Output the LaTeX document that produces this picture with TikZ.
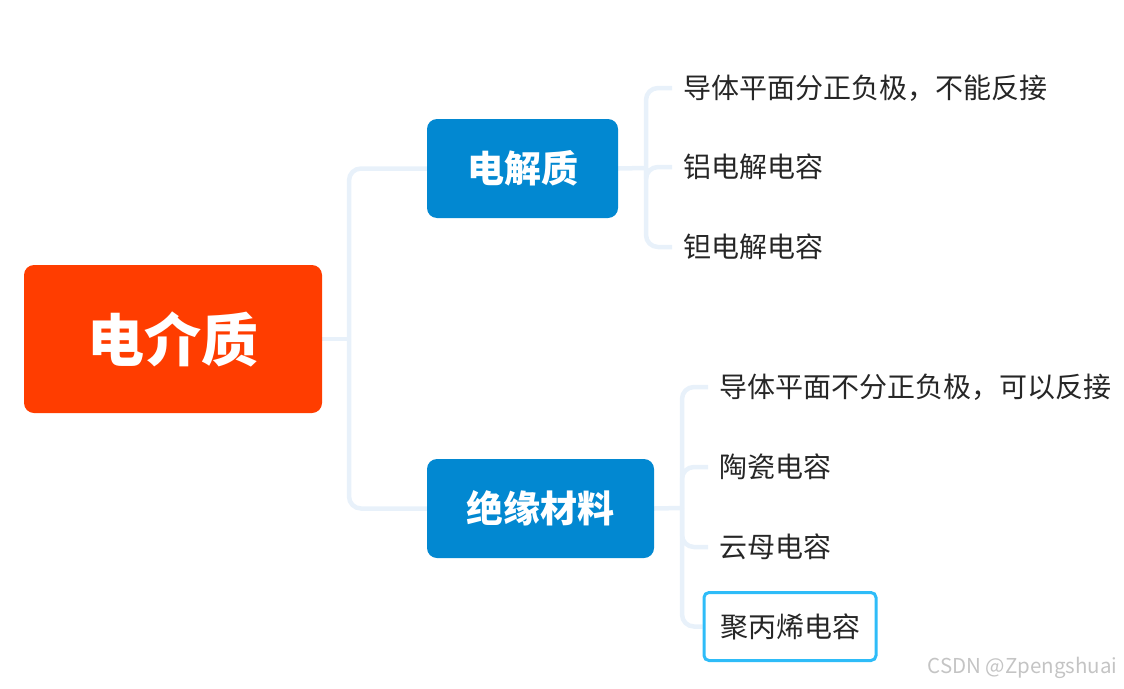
\documentclass[tikz,border=0pt]{standalone}
\usepackage{fontspec}
\setmainfont{Noto Sans CJK SC}
\usepackage{tikz}
\usetikzlibrary{positioning,backgrounds}
\definecolor{rootred}{HTML}{FF3D00}
\definecolor{topicblue}{HTML}{0288D1}
\definecolor{linkblue}{HTML}{E8F1FA}
\definecolor{focusblue}{HTML}{2EBCF8}
\definecolor{leafgray}{HTML}{262626}
\definecolor{markgray}{HTML}{C4C4C4}

\begin{document}
\begin{tikzpicture}[x=1pt,y=-1pt, root/.style={fill=rootred,rounded corners=10pt,minimum width=298pt,minimum height=148pt,text=white,font=\fontsize{57}{64}\selectfont\bfseries}, topic/.style={fill=topicblue,rounded corners=10pt,minimum height=99pt,text=white,font=\fontsize{37}{44}\selectfont\bfseries}, leaf/.style={anchor=west,inner xsep=11pt,text=leafgray,font=\fontsize{28}{32}\selectfont}, focus/.style={leaf,draw=focusblue,line width=3pt,rounded corners=5pt,inner xsep=16pt,minimum height=68pt}, link/.style={draw=linkblue,line width=4.5pt,rounded corners=12pt}]
\useasboundingbox (0,0) rectangle (1124,688);
\node[root] (root) at (173,339) {电介质};
\node[topic,minimum width=191pt] (elec) at (522.5,168.5) {电解质};
\node[topic,minimum width=227pt] (insu) at (540.5,508.5) {绝缘材料};
\node[leaf] (e1) at (672,88) {导体平面分正负极，不能反接};
\node[leaf] (e2) at (672,167) {铝电解电容};
\node[leaf] (e3) at (672,247) {钽电解电容};
\node[leaf] (i1) at (708,387) {导体平面不分正负极，可以反接};
\node[leaf] (i2) at (708,467) {陶瓷电容};
\node[leaf] (i3) at (708,547) {云母电容};
\node[focus] (i4) at (702.5,626.5) {聚丙烯电容};
\node[anchor=west,text=markgray,font=\fontsize{20.5}{24}\selectfont] (mark) at (924,668) {CSDN @Zpengshuai};
\coordinate (rj) at (349,339);
\coordinate (ej) at (646,168);
\coordinate (ij) at (682,508);
\begin{pgfonlayer}{background}
\draw[link] (root.east) -- (rj);
\draw[link] (rj) |- (elec.west);
\draw[link] (rj) |- (insu.west);
\draw[link] (elec.east) -- (ej);
\draw[link] (ej) |- (e1.west);
\draw[link] (ej) |- (e2.west);
\draw[link] (ej) |- (e3.west);
\draw[link] (insu.east) -- (ij);
\draw[link] (ij) |- (i1.west);
\draw[link] (ij) |- (i2.west);
\draw[link] (ij) |- (i3.west);
\draw[link] (ij) |- (i4.west);
\end{pgfonlayer}
\end{tikzpicture}
\end{document}
